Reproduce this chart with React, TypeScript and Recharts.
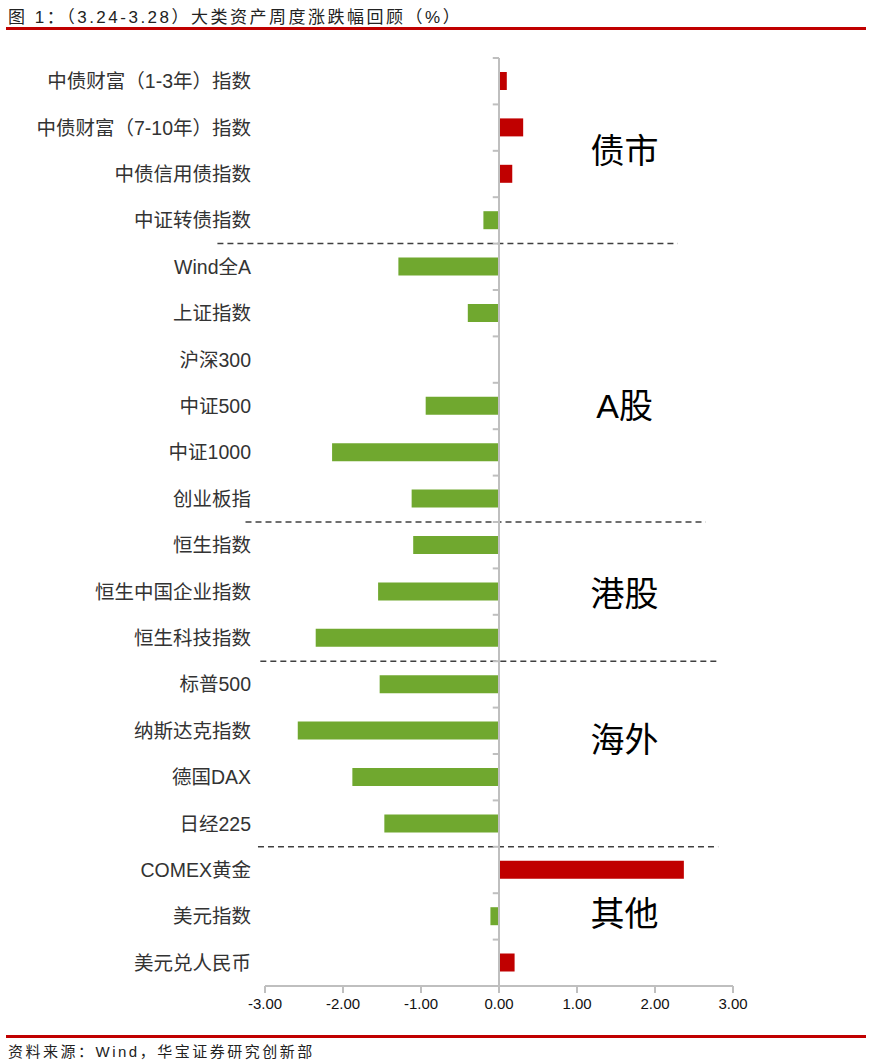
import React from 'react';
import { BarChart, Bar, XAxis, YAxis, Cell, ReferenceLine, ReferenceDot } from 'recharts';

// 周度涨跌幅（%）
const categories = [
  '中债财富（1-3年）指数',
  '中债财富（7-10年）指数',
  '中债信用债指数',
  '中证转债指数',
  'Wind全A',
  '上证指数',
  '沪深300',
  '中证500',
  '中证1000',
  '创业板指',
  '恒生指数',
  '恒生中国企业指数',
  '恒生科技指数',
  '标普500',
  '纳斯达克指数',
  '德国DAX',
  '日经225',
  'COMEX黄金',
  '美元指数',
  '美元兑人民币',
];
const changes = [
  0.1, 0.31, 0.17, -0.2, -1.29, -0.4, 0, -0.94, -2.14, -1.12,
  -1.1, -1.55, -2.35, -1.53, -2.58, -1.88, -1.47, 2.37, -0.11, 0.2,
];
const xTicks = [-3, -2, -1, 0, 1, 2, 3];

// 分组：名称、分隔线所在的类目边界、标签位置
const groupNames = ['债市', 'A股', '港股', '海外', '其他'];
const groupLabelPos = [2, 7.5, 11.55, 14.7, 18.45];
const dividerAt = [4, 10, 13, 17];
const dividerFrom = [-3.61, -3.25, -3.06, -3.09];
const dividerTo = [2.29, 2.65, 2.83, 2.81];
const boundaries = Array.from({ length: categories.length + 1 }, (_, i) => i);

// pos = 类目中心在 0..20 数值轴上的位置，用来给分隔线、刻度定位
const data = categories.map((name, i) => ({ name, value: changes[i], pos: i + 0.5 }));

const RED = '#c00000';
const GREEN = '#70a82f';
const AXIS = '#bfbfbf';
const LATIN_CJK = '"Liberation Sans", Arial, "Noto Sans CJK SC", sans-serif';

export default function App() {
  return (
    <div style={{ position: 'absolute', left: 0, top: 0, width: 872, height: 1064, background: '#fff' }}>
      <div
        style={{
          position: 'absolute', left: 8, top: 3, fontSize: 17, color: '#222',
          fontFamily: LATIN_CJK, letterSpacing: 2.5, whiteSpace: 'nowrap',
        }}
      >
        图 1：（3.24-3.28）大类资产周度涨跌幅回顾（%）
      </div>
      <div style={{ position: 'absolute', left: 6, top: 27, width: 860, height: 3, background: RED }} />

      <div style={{ position: 'absolute', left: 0, top: 0 }}>
        <BarChart
          width={872}
          height={1064}
          data={data}
          layout="vertical"
          margin={{ top: 58, right: 139, bottom: 48, left: 0 }}
          barSize={18}
        >
          <XAxis
            type="number"
            domain={[-3, 3]}
            ticks={xTicks}
            allowDataOverflow
            tickFormatter={(v: number) => v.toFixed(2)}
            axisLine={{ stroke: AXIS, strokeWidth: 2 }}
            tickLine={{ stroke: AXIS, strokeWidth: 2 }}
            tickSize={7}
            tickMargin={5}
            tick={{ fill: '#111', fontSize: 15, fontFamily: LATIN_CJK }}
            height={30}
          />
          <YAxis
            type="category"
            dataKey="name"
            width={265}
            axisLine={false}
            tickLine={false}
            tickMargin={8}
            interval={0}
            tick={{ fill: '#333', fontSize: 19.5, fontFamily: LATIN_CJK }}
          />
          <YAxis yAxisId="n" type="number" dataKey="pos" domain={[0, 20]} allowDataOverflow hide />

          {dividerAt.map((y, i) => (
            <ReferenceLine
              key={`div-${i}`}
              yAxisId="n"
              segment={[{ x: dividerFrom[i], y }, { x: dividerTo[i], y }]}
              stroke="#404040"
              strokeWidth={1.5}
              strokeDasharray="6 4"
              ifOverflow="visible"
            />
          ))}

          <Bar dataKey="value" isAnimationActive={false}>
            {data.map((d, i) => (
              <Cell key={`c-${i}`} fill={d.value >= 0 ? RED : GREEN} />
            ))}
          </Bar>

          <ReferenceLine x={0} stroke={AXIS} strokeWidth={2} />
          {boundaries.map((b) => (
            <ReferenceLine
              key={`t-${b}`}
              yAxisId="n"
              segment={[{ x: -0.08, y: b }, { x: 0, y: b }]}
              stroke={AXIS}
              strokeWidth={2}
              ifOverflow="visible"
            />
          ))}

          {groupNames.map((g, i) => (
            <ReferenceDot
              key={`g-${i}`}
              yAxisId="n"
              x={1.61}
              y={groupLabelPos[i]}
              r={0}
              fill="none"
              stroke="none"
              ifOverflow="visible"
              label={{
                value: g,
                position: 'center',
                fill: '#000',
                fontSize: 34,
                fontFamily: LATIN_CJK,
              }}
            />
          ))}
        </BarChart>
      </div>

      <div style={{ position: 'absolute', left: 6, top: 1035, width: 860, height: 3, background: RED }} />
      <div
        style={{
          position: 'absolute', left: 8, top: 1040, fontSize: 15, color: '#222',
          fontFamily: LATIN_CJK, letterSpacing: 2.5, whiteSpace: 'nowrap',
        }}
      >
        资料来源：Wind，华宝证券研究创新部
      </div>
    </div>
  );
}
